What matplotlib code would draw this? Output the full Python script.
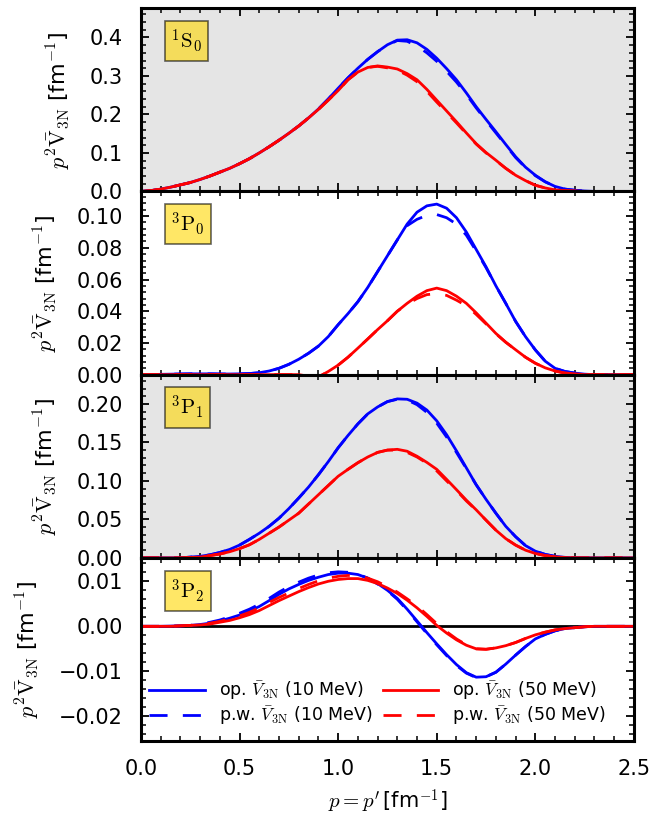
import matplotlib
matplotlib.use("Agg")
import matplotlib.pyplot as plt
from matplotlib.ticker import AutoMinorLocator, MultipleLocator, FuncFormatter

plt.rcParams['mathtext.fontset'] = 'cm'
plt.rcParams['font.family'] = ['DejaVu Sans']

p = [0.00, 0.05, 0.10, 0.15, 0.20, 0.25, 0.30, 0.35, 0.40, 0.45,
     0.50, 0.55, 0.60, 0.65, 0.70, 0.75, 0.80, 0.85, 0.90, 0.95,
     1.00, 1.05, 1.10, 1.15, 1.20, 1.25, 1.30, 1.35, 1.40, 1.45,
     1.50, 1.55, 1.60, 1.65, 1.70, 1.75, 1.80, 1.85, 1.90, 1.95,
     2.00, 2.05, 2.10, 2.15, 2.20, 2.25, 2.30, 2.35, 2.40, 2.45, 2.50]

# ---- 1S0 ----
s0_op10 = [0.0, 0.002, 0.006, 0.011, 0.017, 0.023, 0.031, 0.040, 0.050, 0.060,
           0.072, 0.085, 0.100, 0.116, 0.133, 0.151, 0.170, 0.191, 0.214, 0.240,
           0.268, 0.295, 0.320, 0.343, 0.363, 0.381, 0.393, 0.394, 0.386, 0.369,
           0.346, 0.319, 0.290, 0.256, 0.220, 0.187, 0.155, 0.122, 0.090, 0.063,
           0.042, 0.025, 0.013, 0.006, 0.003, 0.001, 0.0, 0.0, 0.0, 0.0, 0.0]
s0_pw10 = [0.0, 0.002, 0.006, 0.011, 0.017, 0.023, 0.031, 0.040, 0.050, 0.060,
           0.072, 0.085, 0.100, 0.116, 0.133, 0.151, 0.170, 0.191, 0.214, 0.240,
           0.268, 0.295, 0.320, 0.343, 0.363, 0.380, 0.392, 0.390, 0.378, 0.360,
           0.338, 0.312, 0.284, 0.252, 0.217, 0.184, 0.152, 0.120, 0.088, 0.062,
           0.041, 0.025, 0.013, 0.006, 0.003, 0.001, 0.0, 0.0, 0.0, 0.0, 0.0]
s0_op50 = [0.0, 0.002, 0.006, 0.011, 0.017, 0.023, 0.031, 0.040, 0.050, 0.060,
           0.072, 0.085, 0.100, 0.116, 0.133, 0.151, 0.170, 0.191, 0.213, 0.237,
           0.262, 0.290, 0.310, 0.322, 0.326, 0.323, 0.318, 0.306, 0.290, 0.265,
           0.237, 0.209, 0.181, 0.152, 0.124, 0.101, 0.081, 0.060, 0.042, 0.028,
           0.016, 0.009, 0.004, 0.002, 0.001, 0.0, 0.0, 0.0, 0.0, 0.0, 0.0]
s0_pw50 = [0.0, 0.002, 0.006, 0.011, 0.017, 0.023, 0.031, 0.040, 0.050, 0.060,
           0.072, 0.085, 0.100, 0.116, 0.133, 0.151, 0.170, 0.191, 0.213, 0.237,
           0.262, 0.290, 0.310, 0.322, 0.325, 0.321, 0.315, 0.302, 0.285, 0.260,
           0.232, 0.205, 0.178, 0.150, 0.123, 0.100, 0.080, 0.060, 0.042, 0.028,
           0.016, 0.009, 0.004, 0.002, 0.001, 0.0, 0.0, 0.0, 0.0, 0.0, 0.0]

# ---- 3P0 ----
p0_op10 = [0.0, 0.0, 0.0002, 0.0003, 0.0004, 0.0005, 0.0005, 0.0005, 0.0004, 0.0004,
           0.0005, 0.0007, 0.0012, 0.0023, 0.0040, 0.0065, 0.0097, 0.0135, 0.0180, 0.0240,
           0.0315, 0.0385, 0.0460, 0.0550, 0.0650, 0.0750, 0.0850, 0.0950, 0.1025, 0.1065,
           0.1076, 0.1050, 0.0990, 0.0900, 0.0790, 0.0680, 0.0560, 0.0450, 0.0336, 0.0240,
           0.0156, 0.0085, 0.0040, 0.0020, 0.0010, 0.0003, 0.0, 0.0, 0.0, 0.0, 0.0]
p0_pw10 = [0.0, 0.0, 0.0002, 0.0003, 0.0004, 0.0005, 0.0005, 0.0005, 0.0004, 0.0004,
           0.0005, 0.0007, 0.0012, 0.0023, 0.0040, 0.0065, 0.0097, 0.0135, 0.0180, 0.0240,
           0.0315, 0.0385, 0.0460, 0.0550, 0.0650, 0.0750, 0.0850, 0.0940, 0.0980, 0.1005,
           0.1010, 0.0990, 0.0950, 0.0880, 0.0780, 0.0675, 0.0560, 0.0450, 0.0336, 0.0240,
           0.0156, 0.0085, 0.0040, 0.0020, 0.0010, 0.0003, 0.0, 0.0, 0.0, 0.0, 0.0]
p0_op50 = [0.0, 0.0, 0.0, 0.0, 0.0, 0.0, 0.0, 0.0, 0.0, 0.0,
           0.0, 0.0, 0.0, 0.0, 0.0, 0.0, 0.0, -0.0010, -0.0015, 0.0020,
           0.0060, 0.0110, 0.0167, 0.0225, 0.0284, 0.0340, 0.0400, 0.0450, 0.0495, 0.0530,
           0.0546, 0.0530, 0.0495, 0.0450, 0.0390, 0.0325, 0.0260, 0.0205, 0.0157, 0.0110,
           0.0072, 0.0043, 0.0023, 0.0010, 0.0005, 0.0, 0.0, 0.0, 0.0, 0.0, 0.0]
p0_pw50 = [0.0, 0.0, 0.0, 0.0, 0.0, 0.0, 0.0, 0.0, 0.0, 0.0,
           0.0, 0.0, 0.0, 0.0, 0.0, 0.0, 0.0, -0.0010, -0.0015, 0.0020,
           0.0060, 0.0110, 0.0167, 0.0225, 0.0284, 0.0340, 0.0400, 0.0445, 0.0480, 0.0505,
           0.0510, 0.0500, 0.0470, 0.0435, 0.0380, 0.0320, 0.0258, 0.0204, 0.0157, 0.0110,
           0.0072, 0.0043, 0.0023, 0.0010, 0.0005, 0.0, 0.0, 0.0, 0.0, 0.0, 0.0]

# ---- 3P1 ----
p1_op10 = [0.0, 0.0, 0.0, 0.0, 0.0, 0.001, 0.002, 0.004, 0.007, 0.011,
           0.0166, 0.024, 0.032, 0.041, 0.0515, 0.064, 0.0777, 0.092, 0.108, 0.125,
           0.143, 0.159, 0.174, 0.187, 0.196, 0.203, 0.2065, 0.206, 0.201, 0.192,
           0.178, 0.160, 0.139, 0.117, 0.095, 0.076, 0.058, 0.041, 0.0275, 0.016,
           0.0087, 0.0045, 0.002, 0.0007, 0.0, 0.0, 0.0, 0.0, 0.0, 0.0, 0.0]
p1_pw10 = [0.0, 0.0, 0.0, 0.0, 0.0, 0.001, 0.002, 0.004, 0.007, 0.011,
           0.0166, 0.024, 0.032, 0.041, 0.0515, 0.064, 0.0777, 0.092, 0.108, 0.125,
           0.143, 0.159, 0.174, 0.187, 0.196, 0.203, 0.206, 0.205, 0.199, 0.189,
           0.175, 0.157, 0.137, 0.116, 0.095, 0.076, 0.058, 0.041, 0.0275, 0.016,
           0.0087, 0.0045, 0.002, 0.0007, 0.0, 0.0, 0.0, 0.0, 0.0, 0.0, 0.0]
p1_op50 = [0.0, 0.0, 0.0, 0.0, 0.0, 0.0005, 0.001, 0.003, 0.005, 0.008,
           0.012, 0.017, 0.024, 0.032, 0.040, 0.049, 0.058, 0.070, 0.082, 0.094,
           0.106, 0.115, 0.1236, 0.131, 0.137, 0.140, 0.141, 0.1385, 0.132, 0.124,
           0.115, 0.102, 0.0886, 0.075, 0.0624, 0.049, 0.036, 0.025, 0.0166, 0.010,
           0.0057, 0.003, 0.0013, 0.0005, 0.0, 0.0, 0.0, 0.0, 0.0, 0.0, 0.0]
p1_pw50 = [0.0, 0.0, 0.0, 0.0, 0.0, 0.0005, 0.001, 0.003, 0.005, 0.008,
           0.012, 0.017, 0.024, 0.032, 0.040, 0.049, 0.058, 0.070, 0.082, 0.094,
           0.106, 0.115, 0.1236, 0.131, 0.137, 0.140, 0.140, 0.137, 0.131, 0.123,
           0.113, 0.100, 0.0876, 0.074, 0.0620, 0.049, 0.036, 0.025, 0.0166, 0.010,
           0.0057, 0.003, 0.0013, 0.0005, 0.0, 0.0, 0.0, 0.0, 0.0, 0.0, 0.0]

# ---- 3P2 ----
p2_op10 = [0.0, 0.0, 0.0, 0.00005, 0.0001, 0.0002, 0.0004, 0.0007, 0.0012, 0.0018,
           0.0025, 0.0034, 0.0044, 0.0057, 0.0071, 0.0083, 0.0093, 0.0102, 0.0109, 0.0115,
           0.0118, 0.0118, 0.0115, 0.0107, 0.0095, 0.0080, 0.0062, 0.0038, 0.0012, -0.0014,
           -0.0039, -0.0063, -0.0085, -0.0103, -0.0113, -0.0112, -0.0102, -0.0084, -0.0064, -0.0045,
           -0.0028, -0.0018, -0.0010, -0.0005, -0.0003, -0.0001, 0.0, 0.0, 0.0, 0.0, 0.0]
p2_pw10 = [0.0, 0.0, 0.0, 0.00005, 0.0001, 0.0002, 0.0005, 0.0009, 0.0014, 0.0021,
           0.0029, 0.0038, 0.0049, 0.0062, 0.0076, 0.0088, 0.0098, 0.0107, 0.0114, 0.0119,
           0.0121, 0.0120, 0.0116, 0.0107, 0.0094, 0.0079, 0.0060, 0.0036, 0.0010, -0.0016,
           -0.0041, -0.0065, -0.0087, -0.0104, -0.0114, -0.0112, -0.0102, -0.0084, -0.0064, -0.0045,
           -0.0028, -0.0018, -0.0010, -0.0005, -0.0003, -0.0001, 0.0, 0.0, 0.0, 0.0, 0.0]
p2_op50 = [0.0, 0.0, 0.0, 0.0, 0.0001, 0.0002, 0.0003, 0.0005, 0.0009, 0.0013,
           0.0019, 0.0026, 0.0035, 0.0046, 0.0057, 0.0067, 0.0077, 0.0086, 0.0094, 0.0100,
           0.0104, 0.0106, 0.0106, 0.0102, 0.0095, 0.0085, 0.0073, 0.0058, 0.0041, 0.0022,
           0.0002, -0.0015, -0.0030, -0.0042, -0.0050, -0.0051, -0.0048, -0.0043, -0.0036, -0.0027,
           -0.0019, -0.0013, -0.0008, -0.0005, -0.0003, -0.0001, 0.0, 0.0, 0.0, 0.0, 0.0]
p2_pw50 = [0.0, 0.0, 0.0, 0.0, 0.0001, 0.0002, 0.0004, 0.0007, 0.0011, 0.0016,
           0.0023, 0.0031, 0.0041, 0.0053, 0.0064, 0.0074, 0.0084, 0.0093, 0.0101, 0.0107,
           0.0111, 0.0113, 0.0112, 0.0107, 0.0099, 0.0088, 0.0076, 0.0061, 0.0045, 0.0026,
           0.0006, -0.0012, -0.0028, -0.0041, -0.0050, -0.0051, -0.0048, -0.0043, -0.0036, -0.0027,
           -0.0019, -0.0013, -0.0008, -0.0005, -0.0003, -0.0001, 0.0, 0.0, 0.0, 0.0, 0.0]

wave_labels = [r'$^1\mathrm{S}_0$', r'$^3\mathrm{P}_0$', r'$^3\mathrm{P}_1$', r'$^3\mathrm{P}_2$']
ylims = [(0.0, 0.476), (0.0, 0.1156), (0.0, 0.238), (-0.0255, 0.0152)]
yticks_major = [0.1, 0.02, 0.05, 0.01]
panel_bg = ['#e5e5e5', 'white', '#e5e5e5', 'white']
data = [(s0_op10, s0_pw10, s0_op50, s0_pw50),
        (p0_op10, p0_pw10, p0_op50, p0_pw50),
        (p1_op10, p1_pw10, p1_op50, p1_pw50),
        (p2_op10, p2_pw10, p2_op50, p2_pw50)]
yfmt = ['%.1f', '%.2f', '%.2f', '%.2f']

fig, axes = plt.subplots(4, 1, figsize=(6.68, 8.18), dpi=100, sharex=True)
fig.subplots_adjust(left=0.211, right=0.949, top=0.990, bottom=0.094, hspace=0)

lw = 2.0
dash = (0, (6.5, 5.5))
ylabel = r'$p^2\bar{\mathrm{V}}_{\rm 3N}$ [fm$^{-1}$]'


def make_fmt(f):
    return FuncFormatter(lambda v, pos: (f % v).replace('-', '\u2212'))


for i, ax in enumerate(axes):
    op10, pw10, op50, pw50 = data[i]
    ax.set_facecolor(panel_bg[i])
    if i == 3:
        ax.axhline(0.0, color='black', lw=2.0, zorder=1)
    l1, = ax.plot(p, op10, color='blue', lw=lw, label=r'op. $\bar{V}_{\rm 3N}$ (10 MeV)')
    l2, = ax.plot(p, pw10, color='blue', lw=lw, ls=dash, label=r'p.w. $\bar{V}_{\rm 3N}$ (10 MeV)')
    l3, = ax.plot(p, op50, color='red', lw=lw, label=r'op. $\bar{V}_{\rm 3N}$ (50 MeV)')
    l4, = ax.plot(p, pw50, color='red', lw=lw, ls=dash, label=r'p.w. $\bar{V}_{\rm 3N}$ (50 MeV)')
    ax.set_xlim(0, 2.5)
    ax.set_ylim(*ylims[i])
    ax.yaxis.set_major_locator(MultipleLocator(yticks_major[i]))
    ax.yaxis.set_minor_locator(AutoMinorLocator(5))
    ax.xaxis.set_major_locator(MultipleLocator(0.5))
    ax.xaxis.set_minor_locator(AutoMinorLocator(5))
    ax.yaxis.set_major_formatter(make_fmt(yfmt[i]))
    ax.tick_params(which='both', direction='in', top=True, right=True, labelsize=15)
    ax.tick_params(which='major', length=6, width=1.3, pad=13)
    ax.tick_params(which='minor', length=3.5, width=1.1)
    for s in ax.spines.values():
        s.set_linewidth(2.2)
    ax.set_ylabel(ylabel, fontsize=16, labelpad=12)
    ax.text(0.061, 0.896, wave_labels[i], transform=ax.transAxes, fontsize=15,
            ha='left', va='top',
            bbox=dict(boxstyle='square,pad=0.3', facecolor='gold', edgecolor='black',
                      alpha=0.6, lw=1.2))
    if i == 3:
        ax.legend(handles=[l1, l2, l3, l4], ncol=2, loc='lower center',
                  bbox_to_anchor=(0.48, -0.01), frameon=False, fontsize=12.5,
                  handlelength=3.2, columnspacing=0.6, handletextpad=0.8,
                  labelspacing=0.15)

axes[3].set_xlabel(r"$p = p'\,$[fm$^{-1}$]", fontsize=15, labelpad=6)
fig.savefig('out.png', dpi=100)
